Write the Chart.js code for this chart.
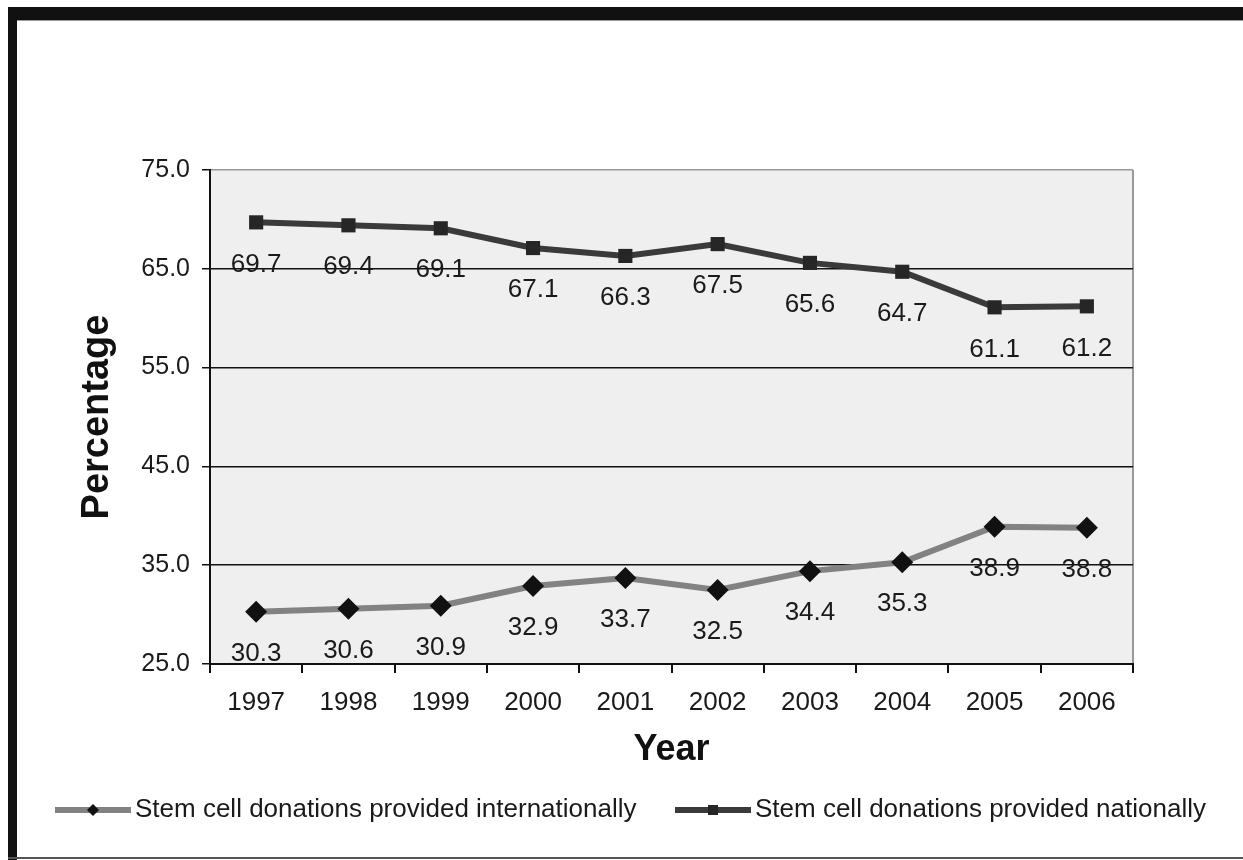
<!DOCTYPE html>
<html>
<head>
<meta charset="utf-8">
<script src="https://cdn.jsdelivr.net/npm/chart.js@4/dist/chart.umd.min.js"></script>
<style>
  html, body { margin: 0; padding: 0; background: #fff; }
  #wrap { position: relative; width: 1243px; height: 860px; overflow: hidden; }
  #topbar { position: absolute; left: 8px; top: 7px; width: 1235px; height: 13px; background: #111; border-bottom: 1px solid #999; }
  #leftbar { position: absolute; left: 8px; top: 7px; width: 9px; height: 853px; background: #111; }
  #bottomline { position: absolute; left: 8px; top: 857px; width: 1235px; height: 2px; background: #555; }
  canvas { position: absolute; left: 0; top: 0; }
</style>
</head>
<body>
<div id="wrap">
  <canvas id="chart" width="1243" height="860"></canvas>
  <div id="topbar"></div>
  <div id="leftbar"></div>
  <div id="bottomline"></div>
</div>
<script>
// 年ごとの割合
const years = ["1997", "1998", "1999", "2000", "2001", "2002", "2003", "2004", "2005", "2006"];
const international = [30.3, 30.6, 30.9, 32.9, 33.7, 32.5, 34.4, 35.3, 38.9, 38.8];
const national = [69.7, 69.4, 69.1, 67.1, 66.3, 67.5, 65.6, 64.7, 61.1, 61.2];
const yTicks = [25, 35, 45, 55, 65, 75];

const FONT = "'Liberation Sans', Arial, sans-serif";

// プロット背景と右枠
const plotBg = {
  id: "plotBg",
  beforeDraw(chart) {
    const { ctx, chartArea: a } = chart;
    ctx.save();
    ctx.fillStyle = "#efefef";
    ctx.fillRect(a.left, a.top, a.right - a.left, a.bottom - a.top);
    ctx.strokeStyle = "#999";
    ctx.lineWidth = 2;
    ctx.beginPath();
    ctx.moveTo(a.right, a.top);
    ctx.lineTo(a.right, a.bottom);
    ctx.stroke();
    ctx.restore();
  }
};

// 値ラベル（点の下）
const valueLabels = {
  id: "valueLabels",
  afterDatasetsDraw(chart) {
    const { ctx } = chart;
    ctx.save();
    ctx.font = "26px " + FONT;
    ctx.fillStyle = "#1a1a1a";
    ctx.textAlign = "center";
    ctx.textBaseline = "middle";
    chart.data.datasets.forEach((ds, i) => {
      chart.getDatasetMeta(i).data.forEach((pt, j) => {
        ctx.fillText(ds.data[j].toFixed(1), pt.x, pt.y + 42);
      });
    });
    ctx.restore();
  }
};

// 凡例（線＋マーカー）
const lineLegend = {
  id: "lineLegend",
  afterDraw(chart) {
    const { ctx } = chart;
    const starts = [55, 675];
    const y = 810;
    ctx.save();
    ctx.font = "26px " + FONT;
    ctx.textBaseline = "middle";
    chart.data.datasets.forEach((ds, i) => {
      const x0 = starts[i];
      ctx.strokeStyle = ds.borderColor;
      ctx.lineWidth = 6;
      ctx.beginPath();
      ctx.moveTo(x0, y);
      ctx.lineTo(x0 + 76, y);
      ctx.stroke();
      const cx = x0 + 38;
      ctx.fillStyle = ds.pointBackgroundColor;
      ctx.beginPath();
      if (ds.pointStyle === "rectRot") {
        ctx.moveTo(cx - 6, y); ctx.lineTo(cx, y - 6); ctx.lineTo(cx + 6, y); ctx.lineTo(cx, y + 6);
      } else {
        ctx.rect(cx - 5, y - 5, 10, 10);
      }
      ctx.closePath();
      ctx.fill();
      ctx.fillStyle = "#1a1a1a";
      ctx.fillText(ds.label, x0 + 80, y);
    });
    ctx.restore();
  }
};

new Chart(document.getElementById("chart").getContext("2d"), {
  type: "line",
  data: {
    labels: years,
    datasets: [{
      label: "Stem cell donations provided internationally",
      data: international,
      borderColor: "#828282",
      borderWidth: 6,
      pointStyle: "rectRot",
      pointRadius: 11,
      pointBackgroundColor: "#111",
      pointBorderColor: "#111",
      pointBorderWidth: 0,
      tension: 0,
    }, {
      label: "Stem cell donations provided nationally",
      data: national,
      borderColor: "#3a3a3a",
      borderWidth: 6,
      pointStyle: "rect",
      pointRadius: 10,
      pointBackgroundColor: "#262626",
      pointBorderColor: "#262626",
      pointBorderWidth: 0,
      tension: 0,
    }]
  },
  options: {
    responsive: false,
    animation: false,
    layout: { padding: { left: 20, top: 170, right: 110, bottom: 86 } },
    plugins: {
      legend: { display: false },
      tooltip: { enabled: false },
    },
    scales: {
      x: {
        type: "category",
        offset: true,
        afterFit: (s) => { s.height = 110; },
        grid: { offset: true, drawOnChartArea: false, color: "#111", lineWidth: 2, tickLength: 9 },
        border: { color: "#111", width: 2 },
        ticks: { color: "#1a1a1a", font: { family: FONT, size: 26 }, padding: 14, maxRotation: 0 },
        title: { display: true, text: "Year", color: "#111", font: { family: FONT, size: 36, weight: "bold" }, padding: { top: 0, bottom: 2 } },
      },
      y: {
        min: 25,
        max: 75,
        afterFit: (s) => { s.width = 190; },
        afterBuildTicks: (s) => { s.ticks = yTicks.map(v => ({ value: v })); },
        grid: {
          color: (c) => (c.tick && c.tick.value === 75 ? "#999" : "#111"),
          tickColor: "#111",
          lineWidth: 1.5,
          tickLength: 8,
        },
        border: { color: "#111", width: 2 },
        ticks: { color: "#1a1a1a", font: { family: FONT, size: 25 }, padding: 12, callback: (v) => v.toFixed(1) },
        title: { display: true, text: "Percentage", color: "#111", font: { family: FONT, size: 38, weight: "bold" }, padding: { top: 55, bottom: 0 } },
      },
    },
  },
  plugins: [plotBg, valueLabels, lineLegend],
});
</script>
</body>
</html>
